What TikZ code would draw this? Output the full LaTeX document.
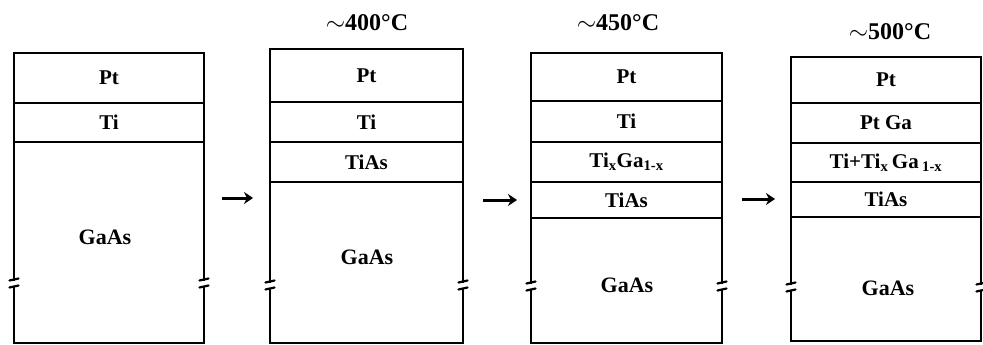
\documentclass[tikz,border=0pt]{standalone}
\usepackage{fontspec}
\setmainfont{Liberation Serif}
\usetikzlibrary{arrows.meta}

\begin{document}
\begin{tikzpicture}[x=1pt,y=-1pt,
  layer/.style={draw, line width=2.4pt, inner sep=0pt, outer sep=0pt,
    anchor=north west, font=\fontsize{21}{21}\selectfont\bfseries},
  lbl/.style={inner sep=0pt, font=\fontsize{22}{22}\selectfont\bfseries},
  temp/.style={inner sep=0pt, font=\fontsize{24}{24}\selectfont\bfseries},
  flow/.style={line width=3pt, -{Stealth[length=9pt,width=12pt]}},
  brkline/.style={line width=2.2pt, line cap=round}]
\useasboundingbox (0,0) rectangle (983,345);

% subscript set in the text face
\newcommand\lsub[1]{\textsubscript{#1}}

% break mark on a side wall of a stack
\newcommand\wallbreak[2]{%
  \fill[white] (#1-6,#2-2.5) rectangle (#1+6,#2+2.5);
  \draw[brkline] (#1-4.5,#2-2.5) -- (#1+4.5,#2-4.5);
  \draw[brkline] (#1-4.5,#2+4.5) -- (#1+4.5,#2+2.5);}

% stack 1: as deposited
\node[layer, minimum width=190pt, minimum height=50pt]  (s1pt)   at (14,53)  {Pt};
\node[layer, minimum width=190pt, minimum height=39pt]  (s1ti)   at (14,103) {Ti};
\node[layer, minimum width=190pt, minimum height=201pt] (s1gaas) at (14,142) {};
\node[lbl] (s1gaasl) at (105,237) {GaAs};

% stack 2: ~400 C
\node[temp] (t2) at (367,23) {$\sim$400°C};
\node[layer, minimum width=193pt, minimum height=53pt]  (s2pt)   at (270,49)  {Pt};
\node[layer, minimum width=193pt, minimum height=40pt]  (s2ti)   at (270,102) {Ti};
\node[layer, minimum width=193pt, minimum height=40pt]  (s2tias) at (270,142) {TiAs};
\node[layer, minimum width=193pt, minimum height=161pt] (s2gaas) at (270,182) {};
\node[lbl] (s2gaasl) at (367,257) {GaAs};

% stack 3: ~450 C
\node[temp] (t3) at (618,23) {$\sim$450°C};
\node[layer, minimum width=191pt, minimum height=48pt]  (s3pt)   at (531,53)  {Pt};
\node[layer, minimum width=191pt, minimum height=41pt]  (s3ti)   at (531,101) {Ti};
\node[layer, minimum width=191pt, minimum height=40pt]  (s3tiga) at (531,142) {Ti\lsub{x}Ga\lsub{1-x}};
\node[layer, minimum width=191pt, minimum height=36pt]  (s3tias) at (531,182) {TiAs};
\node[layer, minimum width=191pt, minimum height=125pt] (s3gaas) at (531,218) {};
\node[lbl] (s3gaasl) at (627,285) {GaAs};

% stack 4: ~500 C
\node[temp] (t4) at (890,32) {$\sim$500°C};
\node[layer, minimum width=190pt, minimum height=46pt]  (s4pt)   at (791,57)  {Pt};
\node[layer, minimum width=190pt, minimum height=40pt]  (s4ptga) at (791,103) {Pt Ga};
\node[layer, minimum width=190pt, minimum height=39pt]  (s4tiga) at (791,143) {Ti+Ti\lsub{x}\,Ga\,\lsub{1-x}};
\node[layer, minimum width=190pt, minimum height=35pt]  (s4tias) at (791,182) {TiAs};
\node[layer, minimum width=190pt, minimum height=124pt] (s4gaas) at (791,217) {};
\node[lbl] (s4gaasl) at (888,288) {GaAs};

% substrate breaks
\wallbreak{14}{283}  \wallbreak{204}{283}
\wallbreak{270}{285} \wallbreak{463}{285}
\wallbreak{531}{286} \wallbreak{722}{286}
\wallbreak{791}{287} \wallbreak{981}{287}

% annealing steps
\coordinate (a1s) at (222,198); \coordinate (a1e) at (253,198);
\coordinate (a2s) at (483,200); \coordinate (a2e) at (517,200);
\coordinate (a3s) at (742,199); \coordinate (a3e) at (775,199);
\draw[flow] (a1s) -- (a1e);
\draw[flow] (a2s) -- (a2e);
\draw[flow] (a3s) -- (a3e);
\end{tikzpicture}
\end{document}
